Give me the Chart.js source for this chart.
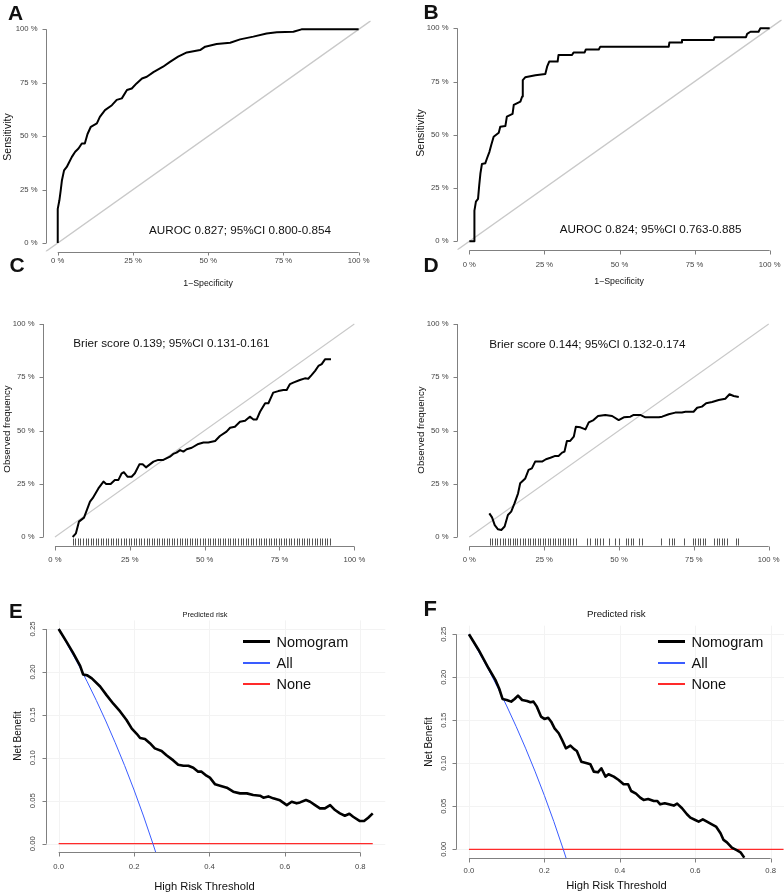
<!DOCTYPE html>
<html>
<head>
<meta charset="utf-8">
<script src="https://cdn.jsdelivr.net/npm/chart.js@4.4.1/dist/chart.umd.min.js"></script>
<style>
html, body { margin: 0; padding: 0; background: #fff; }
body { position: relative; width: 784px; height: 895px; overflow: hidden; font-family: "Liberation Sans", Arial, sans-serif; }
canvas { position: absolute; }
.t { position: absolute; white-space: nowrap; line-height: 1; color: #111; }
.lg { position: absolute; height: 0; }
</style>
</head>
<body>
<canvas id="cA"></canvas>
<canvas id="cB"></canvas>
<canvas id="cC"></canvas>
<canvas id="cD"></canvas>
<canvas id="cE"></canvas>
<canvas id="cF"></canvas>
<script>
// ---- axes ----
const pctTicks = [0, 25, 50, 75, 100];
const pctLabels = ['0 %', '25 %', '50 %', '75 %', '100 %'];
const dcaXTicks = [0, 0.2, 0.4, 0.6, 0.8];
const dcaXLabels = ['0.0', '0.2', '0.4', '0.6', '0.8'];
const dcaYTicks = [0, 0.05, 0.1, 0.15, 0.2, 0.25];
const dcaYLabels = ['0.00', '0.05', '0.10', '0.15', '0.20', '0.25'];

// reference diagonals
const diagROC = [-10, 110];   // abline across the whole plot
const diagCal = [0, 100];

// ---- A: ROC training ----
const rocA_fpr = [0, 0, 0.55, 1, 1.4, 2.1, 3, 3.5, 4.7, 5.8, 6.9, 8, 9, 9.9, 11, 13, 14, 15.7, 18, 19.6,
  21.3, 23, 24.6, 26.2, 28, 29.6, 31.8, 35, 37.3, 40, 42.9, 47.3, 49, 52.8, 57.3, 60.6, 65, 69.4, 72.8, 78.3, 81, 100];
const rocA_tpr = [0, 16, 20, 24.7, 29.4, 34, 35.6, 37, 40.3, 42.7, 44.2, 46.6, 46.6, 51, 54.4, 56, 59, 62.2, 64.5, 67,
  67.7, 71.6, 72.3, 74.7, 77, 77.8, 80, 82.5, 84.8, 87.2, 89.2, 90.3, 91.9, 93.1, 93.75, 95.3, 96.6, 98.1, 98.6, 98.9, 100, 100];

// ---- B: ROC validation ----
const rocB_fpr = [0, 1.7, 1.7, 2.2, 2.9, 3.3, 3.7, 4.2, 5.3, 5.9, 6.7, 7.3, 8.1, 9.8, 10.3, 12, 12.5, 14.4, 14.8, 17,
  17.6, 17.8, 18.6, 22, 25.3, 25.9, 26.6, 29.4, 29.7, 34.2, 34.7, 38.4, 38.8, 43.1, 43.6, 66.4, 66.6, 70.6, 70.8, 81.4,
  81.6, 92.1, 92.5, 93.6, 96.3, 96.9, 100];
const rocB_tpr = [0, 0, 14.4, 18.6, 19.9, 26.4, 31.9, 36.3, 36.6, 39, 42, 45.2, 49.1, 51, 53.8, 54.1, 58.5, 59.8, 64, 65.6,
  68, 75.7, 77, 78, 78.6, 82, 84.4, 84.4, 87.5, 87.5, 88.7, 88.7, 90.1, 90.1, 91.4, 91.4, 93.3, 93.3, 94.5, 94.5,
  95.8, 95.8, 97.4, 98.4, 98.4, 100, 100];

// ---- C: calibration training ----
const calC_pred = [5.9, 7, 8, 9.7, 11.7, 12.6, 14.5, 16.2, 17.1, 18.6, 20, 21.2, 22.3, 23, 24.2, 25.6, 26.7, 28.2, 29.3, 30.4,
  32.9, 34.5, 36.2, 38.4, 39.5, 40.6, 41.8, 42.9, 44, 45.7, 47.9, 49.6, 51.2, 53.5, 55.1, 57.3, 58.5, 60.1, 61.8, 63.5,
  65.1, 66.3, 67.4, 68.5, 70.2, 71.3, 72.9, 74.6, 76.3, 77.4, 78.5, 79.6, 81.8, 83.5, 84.6, 85.7, 86.9, 88, 89.1, 90.2, 92.2];
const calC_obs = [0, 1.7, 7.2, 9.1, 16.6, 18.2, 22.8, 26, 24.9, 24.9, 26.8, 26.8, 29.9, 30.4, 28.3, 28.3, 29.9, 34.1, 34.1, 32.7,
  35.4, 36.2, 36.2, 37.7, 39, 39.6, 40.8, 40.1, 41.2, 41.9, 43.7, 44.4, 44.4, 45.1, 47.4, 49.5, 51.3, 51.8, 54.1, 54.6,
  56.5, 55.2, 55.2, 58.8, 62.8, 62.8, 67.8, 68.5, 69, 69, 71.8, 72.5, 73.7, 74.5, 74.3, 76, 78, 80.3, 81.2, 83.4, 83.4];
const rugC = [5.9, 6.8, 7.6, 8.5, 9.3, 10.2, 11.0, 11.9, 12.7, 13.6, 14.4, 15.3, 16.1, 17.0, 17.8, 18.7, 19.5, 20.4, 21.2, 22.1,
  22.9, 23.8, 24.6, 25.5, 26.3, 27.2, 28.0, 28.9, 29.7, 30.6, 31.4, 32.3, 33.1, 34.0, 34.8, 35.7, 36.5, 37.4, 38.2, 39.1,
  39.9, 40.8, 41.6, 42.5, 43.3, 44.2, 45.0, 45.9, 46.7, 47.6, 48.4, 49.3, 50.1, 51.0, 51.8, 52.7, 53.5, 54.4, 55.2, 56.1,
  56.9, 57.8, 58.6, 59.5, 60.3, 61.2, 62.0, 62.9, 63.7, 64.6, 65.4, 66.3, 67.1, 68.0, 68.8, 69.7, 70.5, 71.4, 72.2, 73.1,
  73.9, 74.8, 75.6, 76.5, 77.3, 78.2, 79.0, 79.9, 80.7, 81.6, 82.4, 83.3, 84.1, 85.0, 85.8, 86.7, 87.5, 88.4, 89.2, 90.1,
  90.9, 91.8];

// ---- D: calibration validation ----
const calD_pred = [6.7, 7.6, 8.5, 9.6, 10.7, 11.8, 12.9, 14, 15.1, 16.3, 17, 18.7, 19.8, 20.9, 22, 24.3, 25.6, 27.1, 28.5, 29.8,
  31, 31.8, 32.6, 33.7, 34.9, 35.6, 37.1, 38.8, 39.9, 41.5, 43, 45.4, 47.7, 49.9, 51.6, 53.8, 54.9, 57.1, 58.8, 63.3,
  64.4, 66.6, 68.8, 71, 72.2, 74.9, 76.1, 77.7, 79.1, 81.1, 83.3, 85.5, 86.9, 88.3, 90];
const calD_obs = [11.1, 9.2, 5.6, 3.6, 3.3, 4.9, 10.3, 11.9, 15.8, 20.5, 25.2, 27.5, 31.5, 32.2, 35.4, 35.4, 36.5, 37.2, 38, 38,
  39.6, 40.1, 45.1, 45.1, 47.1, 51.8, 51.5, 50.5, 53.8, 54.9, 56.8, 57.3, 56.8, 54.9, 56.2, 56.5, 57.3, 57.3, 56.2, 56.2,
  56.5, 57.6, 58.4, 58.5, 58.8, 58.8, 60.7, 61.2, 62.8, 63.4, 64.3, 64.9, 67, 66.2, 65.7];
const rugD = [6.9, 7.7, 8.6, 9.4, 10.3, 11.1, 11.9, 12.8, 13.6, 14.5, 15.3, 16.1, 17.0, 17.8, 18.7, 19.5, 20.3, 21.2, 22.0, 22.9,
  23.7, 24.5, 25.4, 26.2, 27.1, 27.9, 28.7, 29.6, 30.4, 31.3, 32.1, 32.9, 33.8, 34.6, 35.5,
  39.2, 40.3, 42, 42.8, 43.7, 44.6, 46.8, 48.7, 49.9, 52.3, 53.1, 53.9, 54.8, 56.8, 57.8, 63.9, 66.8, 67.6, 68.5, 71.7,
  74.6, 75.4, 76.3, 77.1, 78.0, 78.7, 81.8, 82.6, 83.5, 84.3, 85.2, 86.0, 89.1, 89.8];

// ---- E: decision curve training ----
const dcaE_thr = [0, 0.021, 0.039, 0.057, 0.065, 0.076, 0.088, 0.11, 0.127, 0.145, 0.163, 0.18, 0.194, 0.207, 0.216, 0.229,
  0.242, 0.255, 0.273, 0.286, 0.304, 0.317, 0.331, 0.344, 0.357, 0.37, 0.379, 0.392, 0.401, 0.415, 0.428, 0.446, 0.463,
  0.481, 0.499, 0.516, 0.534, 0.543, 0.556, 0.569, 0.587, 0.605, 0.618, 0.631, 0.64, 0.656, 0.667, 0.68, 0.693, 0.706,
  0.72, 0.733, 0.746, 0.759, 0.771, 0.781, 0.799, 0.81, 0.821, 0.833];
const dcaE_nomo = [0.25, 0.235, 0.2217, 0.207, 0.197, 0.196, 0.1925, 0.183, 0.173, 0.163, 0.154, 0.144, 0.134, 0.128, 0.123, 0.122,
  0.117, 0.111, 0.108, 0.103, 0.097, 0.092, 0.0908, 0.0908, 0.0885, 0.0839, 0.0839, 0.0792, 0.0769, 0.0691, 0.0675, 0.0652, 0.0606,
  0.0586, 0.0586, 0.0567, 0.0559, 0.0536, 0.0551, 0.0528, 0.0505, 0.045, 0.0489, 0.047, 0.0481, 0.0509, 0.0489, 0.045, 0.0411, 0.0411,
  0.045, 0.0392, 0.0353, 0.0326, 0.0349, 0.0314, 0.0264, 0.0264, 0.0303, 0.0353];
const dcaE_allThr = [0, 0.05, 0.075, 0.1, 0.125, 0.15, 0.175, 0.2, 0.225, 0.25, 0.26];
const dcaE_all = [0.25, 0.2105, 0.1892, 0.1667, 0.1429, 0.1176, 0.0909, 0.0625, 0.0323, 0, -0.0135];
const dcaE_noneThr = [0, 0.833];
const dcaE_none = [0, 0];

// ---- F: decision curve validation ----
const dcaF_thr = [0, 0.0256, 0.052, 0.07, 0.08, 0.089, 0.1, 0.112, 0.121, 0.13, 0.141, 0.154, 0.163, 0.171, 0.18, 0.191, 0.2,
  0.21, 0.218, 0.227, 0.238, 0.247, 0.257, 0.269, 0.278, 0.286, 0.298, 0.313, 0.322, 0.331, 0.342, 0.351, 0.362, 0.37,
  0.384, 0.397, 0.41, 0.422, 0.43, 0.443, 0.454, 0.463, 0.475, 0.49, 0.499, 0.507, 0.519, 0.53, 0.543, 0.552, 0.565,
  0.578, 0.587, 0.6, 0.609, 0.62, 0.631, 0.644, 0.655, 0.667, 0.675, 0.684, 0.697, 0.711, 0.72, 0.73];
const dcaF_nomo = [0.25, 0.2318, 0.2105, 0.197, 0.187, 0.1748, 0.1736, 0.1717, 0.1748, 0.1787, 0.1736, 0.1725, 0.171, 0.1717,
  0.1659, 0.1543, 0.1516, 0.153, 0.1484, 0.1407, 0.1349, 0.1271, 0.1174, 0.1205, 0.1167, 0.1143, 0.1019, 0.1, 0.0988,
  0.0903, 0.0895, 0.0942, 0.0845, 0.0872, 0.0845, 0.0806, 0.0756, 0.0756, 0.0678, 0.0647, 0.0601, 0.0574, 0.0585, 0.0562,
  0.0562, 0.0523, 0.0535, 0.0523, 0.0508, 0.0531, 0.0477, 0.0407, 0.0368, 0.0341, 0.0322, 0.0349, 0.0322, 0.0291, 0.0264,
  0.0186, 0.0109, 0.0081, 0.0019, -0.0012, -0.0035, -0.0097];
const dcaF_allThr = [0, 0.05, 0.075, 0.1, 0.125, 0.15, 0.175, 0.2, 0.225, 0.25, 0.26];
const dcaF_all = [0.25, 0.2105, 0.1892, 0.1667, 0.1429, 0.1176, 0.0909, 0.0625, 0.0323, 0, -0.0135];
const dcaF_noneThr = [0, 0.834];
const dcaF_none = [0, 0];

const legendNames = ['Nomogram', 'All', 'None'];
const colNomo = '#000000', colAll = '#3a5cff', colNone = '#ff2a2a';

// R style axes: line only between first and last tick, outward ticks, optional grid and rug
const rAxes = {
  id: 'rAxes',
  beforeDatasetsDraw(chart, args, o) {
    const { ctx, chartArea: a, scales: { x, y } } = chart;
    if (!o.grid) return;
    ctx.save();
    ctx.strokeStyle = o.grid;
    ctx.lineWidth = 1;
    ctx.beginPath();
    o.xTicks.forEach(v => {
      const px = Math.round(x.getPixelForValue(v)) + 0.5;
      ctx.moveTo(px, a.top); ctx.lineTo(px, a.bottom);
    });
    o.yTicks.forEach(v => {
      const py = Math.round(y.getPixelForValue(v)) + 0.5;
      ctx.moveTo(a.left, py); ctx.lineTo(a.right, py);
    });
    ctx.stroke();
    ctx.restore();
  },
  afterDraw(chart, args, o) {
    const { ctx, chartArea: a, scales: { x, y } } = chart;
    ctx.save();
    ctx.strokeStyle = '#808080';
    ctx.lineWidth = 1;
    ctx.fillStyle = '#444';
    ctx.font = '7.7px "Liberation Sans", Arial, sans-serif';

    // x axis
    const yb = Math.round(a.bottom) + 0.5;
    const x0 = x.getPixelForValue(o.xTicks[0]);
    const x1 = x.getPixelForValue(o.xTicks[o.xTicks.length - 1]);
    ctx.beginPath();
    ctx.moveTo(x0, yb); ctx.lineTo(x1, yb);
    o.xTicks.forEach(v => {
      const px = Math.round(x.getPixelForValue(v)) + 0.5;
      ctx.moveTo(px, yb); ctx.lineTo(px, yb + o.tick);
    });
    ctx.stroke();
    ctx.textAlign = 'center';
    ctx.textBaseline = 'middle';
    o.xTicks.forEach((v, i) => ctx.fillText(o.xLabels[i], x.getPixelForValue(v), yb + o.xOff));

    // y axis
    const xl = Math.round(a.left) + 0.5;
    const y0 = y.getPixelForValue(o.yTicks[0]);
    const y1 = y.getPixelForValue(o.yTicks[o.yTicks.length - 1]);
    ctx.beginPath();
    ctx.moveTo(xl, y0); ctx.lineTo(xl, y1);
    o.yTicks.forEach(v => {
      const py = Math.round(y.getPixelForValue(v)) + 0.5;
      ctx.moveTo(xl - 4, py); ctx.lineTo(xl, py);
    });
    ctx.stroke();
    o.yTicks.forEach((v, i) => {
      const py = y.getPixelForValue(v);
      if (o.yRot) {
        ctx.save();
        ctx.translate(xl - o.yOff, py);
        ctx.rotate(-Math.PI / 2);
        ctx.textAlign = 'center';
        ctx.fillText(o.yLabels[i], 0, 0);
        ctx.restore();
      } else {
        ctx.textAlign = 'right';
        ctx.fillText(o.yLabels[i], xl - o.yOff, py);
      }
    });

    // rug of predicted values
    if (o.rug) {
      ctx.strokeStyle = '#555';
      ctx.beginPath();
      o.rug.forEach(v => {
        const px = Math.round(x.getPixelForValue(v)) + 0.5;
        ctx.moveTo(px, a.bottom); ctx.lineTo(px, a.bottom - 7);
      });
      ctx.stroke();
    }
    ctx.restore();
  }
};

function series(xs, ys, color, width, order) {
  return {
    data: xs.map((v, i) => ({ x: v, y: ys[i] })),
    showLine: true,
    borderColor: color,
    borderWidth: width,
    pointRadius: 0,
    fill: false,
    tension: 0,
    borderJoinStyle: 'round',
    order: order
  };
}

function makeChart(id, box, area, xr, yr, datasets, axes) {
  const cv = document.getElementById(id);
  cv.width = box.w; cv.height = box.h;
  cv.style.left = box.l + 'px'; cv.style.top = box.t + 'px';
  return new Chart(cv, {
    type: 'scatter',
    data: { datasets },
    options: {
      responsive: false,
      animation: false,
      events: [],
      layout: {
        padding: {
          left: area.l - box.l,
          top: area.t - box.t,
          right: box.l + box.w - area.r,
          bottom: box.t + box.h - area.b
        }
      },
      scales: {
        x: { type: 'linear', min: xr[0], max: xr[1], display: false },
        y: { type: 'linear', min: yr[0], max: yr[1], display: false }
      },
      plugins: { legend: { display: false }, tooltip: { enabled: false }, rAxes: axes }
    },
    plugins: [rAxes]
  });
}

const pctRange = [-4, 104];
const dcaX = [-0.0333, 0.8663];
const dcaY = [-0.01, 0.26];
const greyDiag = '#c9c9c9';

makeChart('cA', { l: 0, t: 0, w: 392, h: 275 }, { l: 45.7, t: 20.8, r: 370.7, b: 251.55 }, pctRange, pctRange, [
  series(rocA_fpr, rocA_tpr, '#000', 2, 0),
  series(diagROC, diagROC, greyDiag, 1.4, 1)
], { xTicks: pctTicks, xLabels: pctLabels, yTicks: pctTicks, yLabels: pctLabels, xOff: 8, yOff: 9, tick: 3 });

makeChart('cB', { l: 392, t: 0, w: 392, h: 275 }, { l: 457.3, t: 19.8, r: 781.7, b: 249.8 }, pctRange, pctRange, [
  series(rocB_fpr, rocB_tpr, '#000', 2, 0),
  series(diagROC, diagROC, greyDiag, 1.4, 1)
], { xTicks: pctTicks, xLabels: pctLabels, yTicks: pctTicks, yLabels: pctLabels, xOff: 14, yOff: 9, tick: 4 });

makeChart('cC', { l: 0, t: 290, w: 392, h: 280 }, { l: 43, t: 315.5, r: 366.3, b: 545.5 }, pctRange, pctRange, [
  series(calC_pred, calC_obs, '#000', 2, 0),
  series(diagCal, diagCal, greyDiag, 1.1, 1)
], { xTicks: pctTicks, xLabels: pctLabels, yTicks: pctTicks, yLabels: pctLabels, xOff: 13.5, yOff: 9, tick: 4, rug: rugC });

makeChart('cD', { l: 392, t: 290, w: 392, h: 280 }, { l: 457.3, t: 315.5, r: 780.7, b: 545.5 }, pctRange, pctRange, [
  series(calD_pred, calD_obs, '#000', 2, 0),
  series(diagCal, diagCal, greyDiag, 1.1, 1)
], { xTicks: pctTicks, xLabels: pctLabels, yTicks: pctTicks, yLabels: pctLabels, xOff: 13.5, yOff: 9, tick: 4, rug: rugD });

makeChart('cE', { l: 0, t: 600, w: 392, h: 285 }, { l: 46.1, t: 620.4, r: 385.3, b: 852.3 }, dcaX, dcaY, [
  series(dcaE_thr, dcaE_nomo, colNomo, 2.6, 0),
  series(dcaE_allThr, dcaE_all, colAll, 1, 1),
  series(dcaE_noneThr, dcaE_none, colNone, 1.2, 2)
], { xTicks: dcaXTicks, xLabels: dcaXLabels, yTicks: dcaYTicks, yLabels: dcaYLabels, xOff: 14.4, yOff: 13.7, tick: 4, yRot: true, grid: '#f3f3f3' });

makeChart('cF', { l: 392, t: 600, w: 410, h: 285 }, { l: 456.4, t: 625.7, r: 795.7, b: 857.9 }, dcaX, dcaY, [
  series(dcaF_thr, dcaF_nomo, colNomo, 2.6, 0),
  series(dcaF_allThr, dcaF_all, colAll, 1, 1),
  series(dcaF_noneThr, dcaF_none, colNone, 1.2, 2)
], { xTicks: dcaXTicks, xLabels: dcaXLabels, yTicks: dcaYTicks, yLabels: dcaYLabels, xOff: 12.3, yOff: 12.7, tick: 4, yRot: true, grid: '#f3f3f3' });

// ---- text around the panels ----
function txt(s, x, y, fs, how) {
  const d = document.createElement('div');
  d.className = 't';
  d.textContent = s;
  d.style.left = x + 'px';
  d.style.top = y + 'px';
  d.style.fontSize = fs + 'px';
  if (how === 'rot') d.style.transform = 'translate(-50%,-50%) rotate(-90deg)';
  else if (how === 'left') d.style.transform = 'translate(0,-50%)';
  else if (how === 'letter') { d.style.fontWeight = 'bold'; d.style.top = (y - 0.13 * fs) + 'px'; }
  else d.style.transform = 'translate(-50%,-50%)';
  document.body.appendChild(d);
  return d;
}

txt('A', 8, 5, 21, 'letter');
txt('B', 423.5, 3.5, 21, 'letter');
txt('C', 9.5, 257, 21, 'letter');
txt('D', 423.5, 257, 21, 'letter');
txt('E', 9, 603.5, 20.5, 'letter');
txt('F', 423.5, 601, 22, 'letter');

txt('Sensitivity', 7, 137, 10.5, 'rot');
txt('Sensitivity', 420.3, 133, 10.5, 'rot');
txt('1\u2212Specificity', 208, 283, 8.8);
txt('1\u2212Specificity', 619, 281, 8.8);
txt('AUROC 0.827; 95%CI 0.800-0.854', 149, 230, 11.7, 'left');
txt('AUROC 0.824; 95%CI 0.763-0.885', 559.7, 229.3, 11.7, 'left');

txt('Observed frequency', 6.7, 429, 9.7, 'rot');
txt('Observed frequency', 421.3, 430, 9.7, 'rot');
txt('Brier score 0.139; 95%CI 0.131-0.161', 73.3, 343.3, 11.7, 'left');
txt('Brier score 0.144; 95%CI 0.132-0.174', 489.3, 344, 11.7, 'left');

txt('Predicted risk', 205, 615, 7.4);
txt('Predicted risk', 616.3, 614.3, 9.7);
txt('Net Benefit', 18.3, 736, 10, 'rot');
txt('Net Benefit', 428.7, 741.7, 10, 'rot');
txt('High Risk Threshold', 204.5, 886.7, 11.2);
txt('High Risk Threshold', 616.5, 885.7, 11.2);

// legends of decision curves
function legend(x, y0, gaps) {
  const cols = [colNomo, colAll, colNone];
  const widths = [2.7, 2.2, 2.2];
  legendNames.forEach((name, i) => {
    const yy = y0 + gaps[i];
    const ln = document.createElement('div');
    ln.className = 'lg';
    ln.style.left = x + 'px';
    ln.style.top = (yy - widths[i] / 2) + 'px';
    ln.style.width = '26.5px';
    ln.style.height = widths[i] + 'px';
    ln.style.background = cols[i];
    document.body.appendChild(ln);
    txt(name, x + 33.5, yy, 14.5, 'left');
  });
}
legend(243, 641.7, [0, 21.6, 42.3]);
legend(658, 641.7, [0, 21.6, 42]);
</script>
</body>
</html>
